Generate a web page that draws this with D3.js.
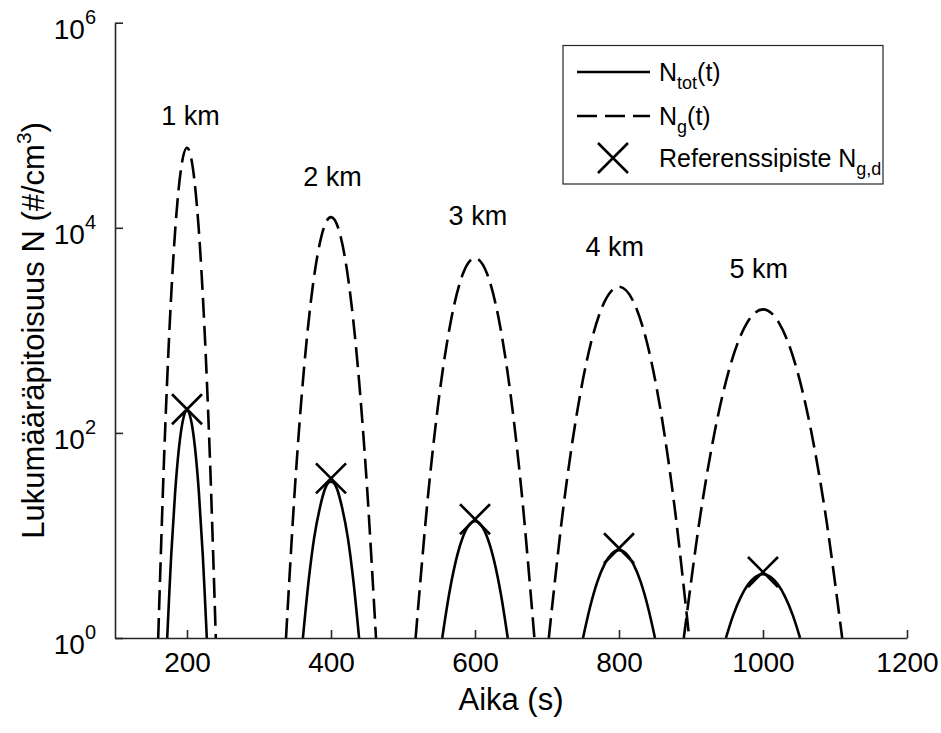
<!DOCTYPE html>
<html>
<head>
<meta charset="utf-8">
<script src="https://cdn.jsdelivr.net/npm/d3@7"></script>
<style>
  body { margin: 0; background: #fff; }
  svg { display: block; }
  text { font-family: Arial, "Liberation Sans", Helvetica, sans-serif; fill: #000; }
</style>
</head>
<body>
<svg id="chart" width="941" height="733"></svg>
<script>
// Release heights and their peak times (s)
const distances = ["1 km", "2 km", "3 km", "4 km", "5 km"];

// N_g(t): sampled concentration of the released gas (#/cm^3)
const ngTimes = [
  [160, 168, 176, 184, 192, 200, 208, 216, 224, 232, 240],
  [337.5, 350, 362.5, 375, 387.5, 400, 412.5, 425, 437.5, 450, 462.5],
  [517.5, 534, 550.5, 567, 583.5, 600, 616.5, 633, 649.5, 666, 682.5],
  [702.5, 722, 741.5, 761, 780.5, 800, 819.5, 839, 858.5, 878, 897.5],
  [890, 912, 934, 956, 978, 1000, 1022, 1044, 1066, 1088, 1110]
];
const ngValues = [
  [1, 53, 1150, 10400, 38800, 60300, 38800, 10400, 1150, 53, 1],
  [1, 30, 423, 2800, 8700, 12700, 8700, 2800, 423, 30, 1],
  [1, 21.5, 235, 1290, 3600, 5060, 3600, 1290, 235, 21.5, 1],
  [1, 17.1, 155, 752, 1940, 2660, 1940, 752, 155, 17.1, 1],
  [1, 14.2, 112, 491, 1190, 1600, 1190, 491, 112, 14.2, 1]
];

// N_tot(t): total concentration (#/cm^3)
const ntotTimes = [
  [172.5, 178, 183.5, 189, 194.5, 200, 205.5, 211, 216.5, 222, 227.5],
  [361, 368.8, 376.6, 384.4, 392.2, 400, 407.8, 415.6, 423.4, 431.2, 439],
  [554.5, 563.6, 572.7, 581.8, 590.9, 600, 609.1, 618.2, 627.3, 636.4, 645.5],
  [750, 760, 770, 780, 790, 800, 810, 820, 830, 840, 850],
  [948.5, 958.8, 969.1, 979.4, 989.7, 1000, 1010.3, 1020.6, 1030.9, 1041.2, 1051.5]
];
const ntotValues = [
  [1, 6.28, 26.3, 72.9, 134.5, 165, 134.5, 72.9, 26.3, 6.28, 1],
  [1, 3.54, 9.46, 18.4, 29.1, 33.5, 29.1, 18.4, 9.46, 3.54, 1],
  [1, 2.57, 5.37, 9.07, 12.4, 13.8, 12.4, 9.07, 5.37, 2.57, 1],
  [1, 2.03, 3.54, 5.25, 6.65, 7.19, 6.65, 5.25, 3.54, 2.03, 1],
  [1, 1.68, 2.50, 3.34, 3.96, 4.20, 3.96, 3.34, 2.50, 1.68, 1]
];

// Reference points N_g,d
const refTimes = [200, 400, 600, 800, 1000];
const refValues = [170, 36, 14.4, 7.5, 4.4];

// Anchors of the height annotations (time, concentration)
const labelTimes = [205, 402, 604, 794, 994];
const labelValues = [1.0e5, 2.55e4, 1.06e4, 5.33e3, 3.23e3];

// Axis ticks
const xTicks = [200, 400, 600, 800, 1000, 1200];
const yTickExponents = [0, 2, 4, 6];

const svg = d3.select("#chart");
const axisColor = "#262626";

const x = d3.scaleLinear().domain([100, 1200]).range([115, 907]);
const y = d3.scaleLog().domain([1, 1e6]).range([638, 22.7]);

// clip so curves end on the axes
svg.append("defs").append("clipPath").attr("id", "plotClip")
  .append("rect")
  .attr("x", x(100)).attr("y", y(1e6))
  .attr("width", x(1200) - x(100)).attr("height", y(1) - y(1e6));

const line = d3.line()
  .x(d => x(d[0]))
  .y(d => y(d[1]))
  .curve(d3.curveCardinal.tension(0));

const plot = svg.append("g").attr("clip-path", "url(#plotClip)");

ngTimes.forEach((ts, i) => {
  plot.append("path")
    .datum(ts.map((t, j) => [t, ngValues[i][j]]))
    .attr("d", line)
    .attr("fill", "none")
    .attr("stroke", "#000")
    .attr("stroke-width", 2.6)
    .attr("stroke-dasharray", "20,8");
});

ntotTimes.forEach((ts, i) => {
  plot.append("path")
    .datum(ts.map((t, j) => [t, ntotValues[i][j]]))
    .attr("d", line)
    .attr("fill", "none")
    .attr("stroke", "#000")
    .attr("stroke-width", 2.6);
});

// cross marker
function cross(g, cx, cy, r) {
  g.append("path")
    .attr("d", `M${cx - r},${cy - r}L${cx + r},${cy + r}M${cx - r},${cy + r}L${cx + r},${cy - r}`)
    .attr("stroke", "#000")
    .attr("stroke-width", 2.6)
    .attr("fill", "none");
}
refTimes.forEach((t, i) => cross(svg, x(t), y(refValues[i]), 15));

// height annotations
svg.append("g").selectAll("text")
  .data(distances)
  .join("text")
  .attr("x", (d, i) => x(labelTimes[i]))
  .attr("y", (d, i) => y(labelValues[i]))
  .attr("text-anchor", "middle")
  .attr("font-size", 27)
  .text(d => d);

// x axis
const xAxis = svg.append("g")
  .attr("transform", `translate(0,${y(1)})`)
  .call(d3.axisBottom(x).tickValues(xTicks).tickFormat(d3.format("d"))
    .tickSizeInner(-8).tickSizeOuter(0).tickPadding(14));
xAxis.select(".domain").attr("stroke", axisColor).attr("stroke-width", 1.6);
xAxis.selectAll(".tick line").attr("stroke", axisColor).attr("stroke-width", 1.6);
xAxis.selectAll(".tick text").attr("font-size", 28).attr("fill", "#262626")
  .style("font-family", "Arial, 'Liberation Sans', sans-serif");

// y axis with power-of-ten labels
const yAxis = svg.append("g")
  .attr("transform", `translate(${x(100)},0)`)
  .call(d3.axisLeft(y).tickValues(yTickExponents.map(e => Math.pow(10, e)))
    .tickSizeInner(-8).tickSizeOuter(0).tickPadding(19).tickFormat(() => ""));
yAxis.select(".domain").attr("stroke", axisColor).attr("stroke-width", 1.6);
yAxis.selectAll(".tick line").attr("stroke", axisColor).attr("stroke-width", 1.6);
yAxis.selectAll(".tick text").each(function (d) {
  const t = d3.select(this).attr("font-size", 28).attr("fill", "#262626").attr("dy", "0.55em")
    .style("font-family", "Arial, 'Liberation Sans', sans-serif");
  t.append("tspan").text("10");
  t.append("tspan").attr("font-size", 20).attr("dy", "-0.75em").text(Math.round(Math.log10(d)));
});

// axis titles
svg.append("text")
  .attr("x", (x(100) + x(1200)) / 2)
  .attr("y", 710)
  .attr("text-anchor", "middle")
  .attr("font-size", 31)
  .attr("fill", "#262626")
  .text("Aika (s)");

const yTitle = svg.append("text")
  .attr("transform", `translate(44,${(y(1) + y(1e6)) / 2}) rotate(-90)`)
  .attr("text-anchor", "middle")
  .attr("font-size", 31)
  .attr("fill", "#262626");
yTitle.append("tspan").text("Lukumääräpitoisuus N (#/cm");
yTitle.append("tspan").attr("font-size", 21).attr("dy", "-0.6em").text("3");
yTitle.append("tspan").attr("dy", "0.42em").text(")");

// legend
const legend = svg.append("g");
legend.append("rect")
  .attr("x", 563).attr("y", 45.5).attr("width", 320).attr("height", 138.5)
  .attr("fill", "#fff").attr("stroke", axisColor).attr("stroke-width", 1.2);

const legendRows = [72, 116, 158];
legend.append("line")
  .attr("x1", 577).attr("x2", 650).attr("y1", legendRows[0]).attr("y2", legendRows[0])
  .attr("stroke", "#000").attr("stroke-width", 2.6);
legend.append("line")
  .attr("x1", 577).attr("x2", 650).attr("y1", legendRows[1]).attr("y2", legendRows[1])
  .attr("stroke", "#000").attr("stroke-width", 2.6).attr("stroke-dasharray", "20,8");
cross(legend, 613, legendRows[2], 15);

function legendLabel(rowY, main, sub, tail) {
  const t = legend.append("text")
    .attr("x", 659).attr("y", rowY + 9)
    .attr("font-size", 25);
  t.append("tspan").text(main);
  t.append("tspan").attr("font-size", 18).attr("dy", "0.45em").text(sub);
  if (tail) t.append("tspan").attr("dy", "-0.32em").text(tail);
}
legendLabel(legendRows[0], "N", "tot", "(t)");
legendLabel(legendRows[1], "N", "g", "(t)");
legendLabel(legendRows[2], "Referenssipiste N", "g,d", "");
</script>
</body>
</html>
